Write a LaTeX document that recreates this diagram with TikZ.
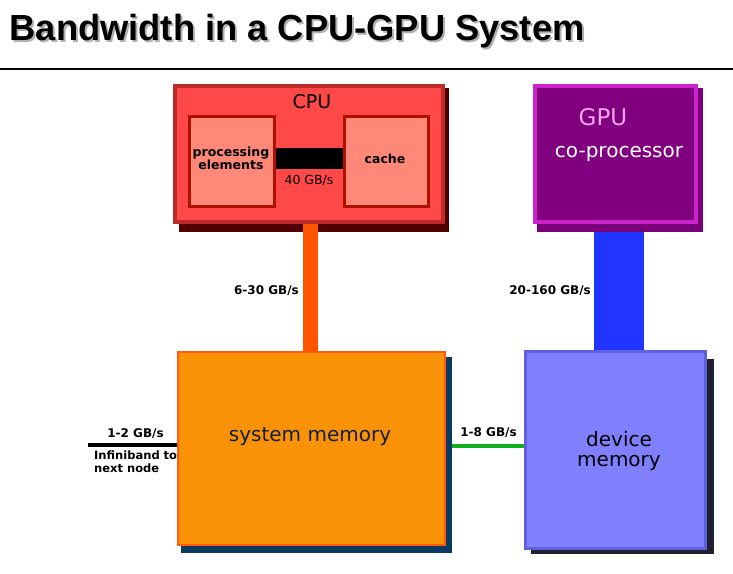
\documentclass[tikz,border=0pt]{standalone}
\usepackage{fontspec}
\setmainfont{DejaVu Sans}
\newfontfamily\titlefont{Liberation Sans}
\definecolor{cpufill}{HTML}{FF4848}
\definecolor{cpuborder}{HTML}{BC2A2A}
\definecolor{cpushadow}{HTML}{500000}
\definecolor{infill}{HTML}{FF8878}
\definecolor{inborder}{HTML}{B01000}
\definecolor{orangelink}{HTML}{FF5500}
\definecolor{gpufill}{HTML}{800080}
\definecolor{gpuborder}{HTML}{CC22CC}
\definecolor{gpushadow}{HTML}{7A007A}
\definecolor{gpulabel}{HTML}{F5A5E8}
\definecolor{bluelink}{HTML}{2035FF}
\definecolor{sysfill}{HTML}{FA9208}
\definecolor{sysborder}{HTML}{FF5A10}
\definecolor{sysshadow}{HTML}{0A3A60}
\definecolor{systext}{HTML}{102030}
\definecolor{devfill}{HTML}{8080FF}
\definecolor{devborder}{HTML}{6060DD}
\definecolor{devshadow}{HTML}{202030}
\definecolor{greenlink}{HTML}{10B020}
\definecolor{titleshadow}{HTML}{B0B0B0}
\tikzset{
  box/.style={rectangle, inner sep=0pt, outer sep=0pt},
  bwlabel/.style={inner sep=0pt, font=\fontsize{12}{13}\selectfont\bfseries},
  link/.style={line cap=butt},
  titletext/.style={anchor=base west, inner sep=0pt, font=\titlefont\fontsize{36.3}{40}\selectfont\bfseries},
}
\begin{document}
\begin{tikzpicture}[x=1pt,y=-1pt]
\useasboundingbox (0,0) rectangle (733,573);
% title
\node[titletext, text=titleshadow] (titleshadow) at (11.5,42) {Bandwidth in a CPU-GPU System};
\node[titletext, text=black] (title) at (9.5,40) {Bandwidth in a CPU-GPU System};
\coordinate (ruleL) at (0,69);
\coordinate (ruleR) at (733,69);
\draw[line width=1.5pt] (ruleL) -- (ruleR);

% box geometry (nodes, not yet drawn)
\node[box, minimum width=268pt, minimum height=136pt] (cpu) at (309,154) {};
\node[box, minimum width=161pt, minimum height=136pt] (gpu) at (615.5,154) {};
\node[box, minimum width=267pt, minimum height=193pt] (sysmem) at (311.5,448.5) {};
\node[box, minimum width=180pt, minimum height=197pt] (dev) at (615.5,450) {};

% links drawn below shadows
\draw[link, bluelink, line width=50pt] ([xshift=3.5pt]gpu.south) -- ([xshift=3.5pt]gpu.south |- dev.north);
\draw[link, greenlink, line width=4.5pt] ([yshift=2.5pt]sysmem.east) -- ([yshift=4pt]dev.west);

% shadows
\fill[cpushadow] (179,88) rectangle (449,232);
\fill[gpushadow] (537,88) rectangle (703,232);
\fill[sysshadow] (181,357) rectangle (452,553);
\fill[devshadow] (531,359) rectangle (714,554);

% orange link over the cpu shadow
\draw[link, orangelink, line width=15pt] ([xshift=1.5pt]cpu.south) -- ([xshift=1.5pt]cpu.south |- sysmem.north);

% infiniband line
\coordinate (ib) at (88,445);
\draw[link, black, line width=4pt] (ib) -- (ib -| sysmem.west);

% boxes
\draw[fill=cpufill, draw=cpuborder, line width=4pt] (cpu.south west) rectangle (cpu.north east);
\draw[fill=gpufill, draw=gpuborder, line width=4pt] (gpu.south west) rectangle (gpu.north east);
\draw[fill=sysfill, draw=sysborder, line width=2pt] (sysmem.south west) rectangle (sysmem.north east);
\draw[fill=devfill, draw=devborder, line width=3pt] (dev.south west) rectangle (dev.north east);

% cpu inner boxes
\node[box, fill=infill, draw=inborder, line width=3pt, minimum width=85pt, minimum height=90pt] (pe) at (232,161.5) {};
\node[box, fill=infill, draw=inborder, line width=3pt, minimum width=84pt, minimum height=90pt] (cache) at (386.5,161.5) {};
\draw[link, black, line width=21pt] ([yshift=3pt,xshift=1.5pt]pe.east) -- ([yshift=3pt,xshift=-1.5pt]cache.west);

% texts
\node[inner sep=0pt, font=\fontsize{19}{20}\selectfont] (cpulabel) at (312,102) {CPU};
\node[inner sep=0pt, align=center, font=\fontsize{12.5}{12}\selectfont\bfseries] (petext) at (231,158) {processing\\elements};
\node[inner sep=0pt, font=\fontsize{12.5}{13}\selectfont\bfseries] (cachetext) at (385,158.5) {cache};
\node[inner sep=0pt, font=\fontsize{12.5}{13}\selectfont] (bw40) at (309,180) {40 GB/s};
\node[inner sep=0pt, text=gpulabel, font=\fontsize{23}{24}\selectfont] (gpulabel) at (603,117) {GPU};
\node[inner sep=0pt, text=white, font=\fontsize{20}{21}\selectfont] (coproc) at (619,154) {co-processor};
\node[inner sep=0pt, text=systext, font=\fontsize{20}{21}\selectfont] (systext) at (310,437) {system memory};
\node[inner sep=0pt, align=center, font=\fontsize{20}{20}\selectfont] (devtext) at (619,451) {device\\memory};
\node[bwlabel, anchor=east] (bw630) at (299,291) {6-30 GB/s};
\node[bwlabel, anchor=east] (bw20160) at (591,291) {20-160 GB/s};
\node[bwlabel] (bw12) at (135.5,434) {1-2 GB/s};
\node[bwlabel] (bw18) at (488.5,433) {1-8 GB/s};
\node[inner sep=0pt, anchor=north west, align=left, font=\fontsize{11.5}{12.5}\selectfont\bfseries] (ibtext) at (94,451) {Infiniband to\\next node};
\end{tikzpicture}
\end{document}
